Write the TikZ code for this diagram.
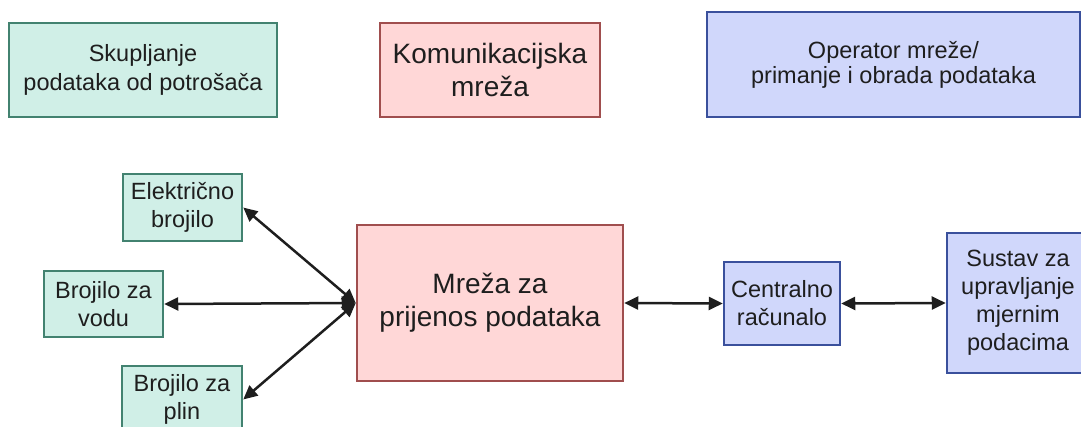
\documentclass[tikz,border=0pt]{standalone}
\usepackage{fontspec}
\setmainfont{Liberation Sans}
\usetikzlibrary{arrows.meta}
\definecolor{mint}{RGB}{208,239,231}
\definecolor{mintline}{RGB}{66,130,112}
\definecolor{rose}{RGB}{255,215,215}
\definecolor{roseline}{RGB}{160,78,78}
\definecolor{lilac}{RGB}{208,215,251}
\definecolor{lilacline}{RGB}{58,80,156}
\definecolor{ink}{RGB}{30,30,30}
\tikzstyle{box}=[rectangle, line width=2.5pt, align=center, inner sep=0pt, text=ink, font=\fontsize{23.5}{29}\selectfont]
\tikzstyle{consumer}=[box, fill=mint, draw=mintline]
\tikzstyle{network}=[box, fill=rose, draw=roseline]
\tikzstyle{operator}=[box, fill=lilac, draw=lilacline]
\tikzstyle{bigtext}=[font=\fontsize{28}{33}\selectfont]
\tikzstyle{link}=[{Triangle[length=14pt,width=13pt]}-{Triangle[length=14pt,width=13pt]}, line width=2.5pt, draw=ink]

\begin{document}
\begin{tikzpicture}[x=1pt, y=-1pt]
\useasboundingbox (0,0) rectangle (1081,426);

% legend
\node[consumer, minimum width=268pt, minimum height=94pt] (legcons) at (143,70) {Skupljanje\\podataka od potrošača};
\node[network, bigtext, minimum width=220pt, minimum height=94pt] (legnet) at (490,70) {Komunikacijska\\mreža};
\node[operator, minimum width=373pt, minimum height=105pt, font=\fontsize{23.5}{25}\selectfont] (legop) at (893.5,64.5) {Operator mreže/\\primanje i obrada podataka};

% meters
\node[consumer, minimum width=119pt, minimum height=67pt, font=\fontsize{23.5}{28}\selectfont] (elec) at (182.5,207.5) {Električno\\brojilo};
\node[consumer, minimum width=119pt, minimum height=66pt, font=\fontsize{23.5}{28}\selectfont] (voda) at (103.5,304) {Brojilo za\\vodu};
\node[consumer, minimum width=120pt, minimum height=67pt, font=\fontsize{23.5}{28}\selectfont] (plin) at (182,399.5) {Brojilo za\\plin};

% network and operator side
\node[network, bigtext, minimum width=266pt, minimum height=156pt] (mreza) at (490,303) {Mreža za\\prijenos podataka};
\node[operator, minimum width=116pt, minimum height=83pt, font=\fontsize{23.5}{28}\selectfont] (racunalo) at (782,303.5) {Centralno\\računalo};
\node[operator, minimum width=142pt, minimum height=140pt, font=\fontsize{23.5}{28}\selectfont] (sustav) at (1018,303) {Sustav za\\upravljanje\\mjernim\\podacima};

\draw[link] (mreza.west) -- (elec.east);
\draw[link] (mreza.west) -- (voda.east);
\draw[link] (mreza.west) -- (plin.east);
\draw[link] (mreza.east) -- (racunalo.west);
\draw[link] (racunalo.east) -- (sustav.west);
\end{tikzpicture}
\end{document}
